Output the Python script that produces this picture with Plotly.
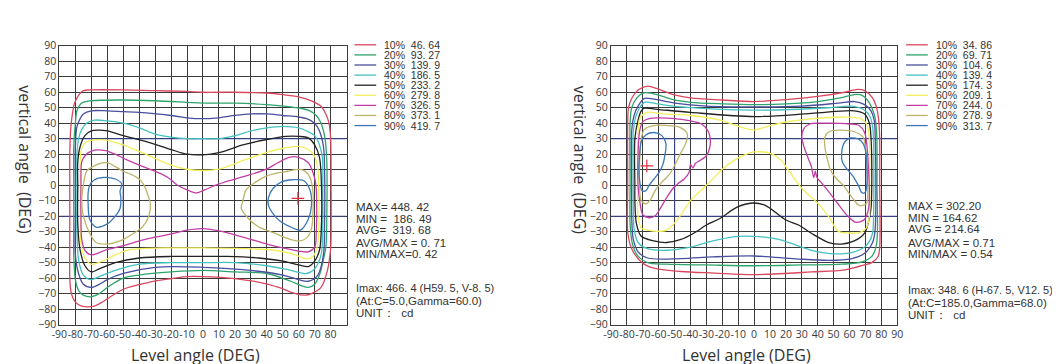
import plotly.graph_objects as go

W, H = 1060, 364

# ---------------- data ----------------
LEVEL_PCT = [10, 20, 30, 40, 50, 60, 70, 80, 90]
LEVEL_COLORS = ["#d9475f", "#2ea46c", "#4a4f9e", "#45c1c0", "#222222",
                "#f2ef5c", "#c23ea6", "#bdb46a", "#3b78b5"]

A_LEVEL_CD = ["46. 64", "93. 27", "139. 9", "186. 5", "233. 2", "279. 8", "326. 5", "373. 1", "419. 7"]
B_LEVEL_CD = ["34. 86", "69. 71", "104. 6", "139. 4", "174. 3", "209. 1", "244. 0", "278. 9", "313. 7"]

X_TICKS_A = list(range(-90, 81, 10))
X_TICKS_B = list(range(-90, 91, 10))
Y_TICKS = list(range(-90, 91, 10))

A_STATS = ["MAX= 448. 42", "MIN =  186. 49", "AVG=  319. 68", "AVG/MAX = 0. 71", "MIN/MAX=0. 42"]
A_INFO = ["Imax: 466. 4 (H59. 5, V-8. 5)", "(At:C=5.0,Gamma=60.0)", "UNIT：  cd"]
A_IMAX = (59.5, -8.5)

B_STATS = ["MAX = 302.20", "MIN = 164.62", "AVG = 214.64", "AVG/MAX = 0.71", "MIN/MAX = 0.54"]
B_INFO = ["Imax: 348. 6 (H-67. 5, V12. 5)", "(At:C=185.0,Gamma=68.0)", "UNIT：  cd"]
B_IMAX = (-67.5, 12.5)

# Left chart isolines (H deg, V deg)
A10 = [(-83.5, 0), (-83.5, 20), (-83, 35), (-82, 45), (-80.5, 53), (-78, 58), (-75, 61), (-70, 61.5),
       (-50, 61.5), (-30, 61), (-10, 60.5), (0, 60), (20, 60), (40, 59.5), (50, 58.5), (60, 57),
       (65, 55.5), (70, 53.5), (74, 51), (77, 46), (79, 40), (80, 30), (80.3, 0), (80.3, -30),
       (80, -41), (78, -55), (74, -66), (68, -70), (64, -71), (58, -70), (47.5, -66), (37, -63),
       (16.5, -60), (0, -59), (-10, -59), (-24.5, -61), (-35, -63), (-49.5, -67), (-58, -72),
       (-64, -76), (-68, -78), (-76, -78), (-80, -75.5), (-82.5, -70), (-83.5, -60), (-83.5, -40),
       (-83.5, -20)]
A20 = [(-81, 0), (-81, 25), (-80, 40), (-79, 48), (-76, 53), (-70, 54.5), (-50, 55), (-30, 54.5),
       (-10, 53.5), (0, 53), (20, 53), (40, 52), (55, 50.5), (62, 49.5), (67, 48), (71, 45),
       (74, 40), (76.5, 30), (77.6, 15), (77.6, -20), (77, -40), (75, -50), (73, -58), (70, -64),
       (66, -66), (62, -65), (55, -62), (40, -57), (20, -56), (0, -55), (-20, -56), (-40, -58),
       (-50, -60), (-60, -66), (-65, -70), (-70, -72), (-75, -71), (-78, -68), (-80, -61),
       (-81, -45), (-81, -20)]
A30 = [(-80, 0), (-80, 25), (-79, 38), (-77, 43), (-75, 46), (-70, 48), (-60, 48), (-50, 47.5),
       (-40, 47), (-20, 45), (-5, 43), (10, 43.5), (20, 45), (30, 46), (40, 46), (50, 45),
       (60, 44), (65, 43), (70, 40), (73, 35), (75.5, 25), (76.2, 10), (76.2, -25), (75.5, -45),
       (72, -58), (66, -62), (60, -61), (50, -58), (30, -55), (0, -53), (-30, -53), (-50, -57),
       (-60, -61), (-65, -64), (-70, -66), (-75, -64), (-78, -57), (-80, -45), (-80, -20)]
A40 = [(-79, 0), (-79, 20), (-78, 30), (-76, 36), (-73, 40), (-68, 42), (-60, 41.5), (-50, 40),
       (-40, 37), (-30, 33), (-20, 31), (-10, 30), (0, 30), (10, 30), (20, 32), (30, 35),
       (40, 37), (50, 38), (60, 37), (65, 35), (70, 32), (73, 26), (74.8, 18), (75.1, 0),
       (75, -30), (74, -45), (70, -54), (65, -57), (55, -55), (40, -52), (20, -50), (0, -50),
       (-20, -50), (-40, -51), (-55, -55), (-65, -59), (-70, -61), (-75, -58), (-78, -48),
       (-79, -30)]
A50 = [(-78.5, 0), (-78.5, 15), (-77, 25), (-74, 32), (-70, 35), (-66, 35.5), (-60, 35), (-50, 32),
       (-35, 28), (-20, 23), (-10, 20), (0, 19.6), (10, 21), (25, 26), (40, 29.5), (52, 31.5),
       (60, 31.5), (66, 30.5), (70, 26), (73, 18), (74.1, 5), (74.1, -30), (73, -42), (70, -49),
       (66, -52.5), (60, -51.5), (50, -49), (35, -47), (15, -46), (0, -46), (-20, -46),
       (-40, -47), (-55, -50), (-65, -54), (-70, -56), (-74, -52), (-77, -42), (-78.5, -25)]
A60 = [(-77, 0), (-77, 15), (-76, 24), (-73, 28), (-70, 29), (-60, 29), (-50, 26), (-35, 19.6),
       (-20, 13), (-10, 10.3), (0, 9.5), (10, 10.3), (27, 16.6), (39, 20.8), (51, 24), (60, 25),
       (66, 23), (70, 18.6), (72, 10), (72.5, 0), (72.5, -30), (71.5, -40), (69, -46),
       (65, -47.5), (58, -45), (45, -42), (25, -41), (0, -40.5), (-25, -40.5), (-45, -41.5),
       (-55, -45), (-63, -49), (-70, -51), (-74, -47), (-76.5, -38), (-77, -20)]
A70 = [(-76, 15), (-74, 19), (-70, 22), (-62, 22.5), (-55, 20), (-48, 16.5), (-40, 13), (-30, 9),
       (-22, 5), (-16, 0), (-10, -3), (-4, -5), (1, -3), (8, 0), (15, 2.5), (27, 6), (39, 10),
       (47, 14.5), (54, 18), (60, 18), (66, 14.5), (69, 8), (70.8, 0), (71, -30), (70, -40),
       (66, -43), (60, -42.5), (50, -40.5), (40, -38), (30, -35), (20, -32), (10, -29.5), (0, -28),
       (-10, -29), (-20, -31.5), (-30, -33.5), (-40, -36), (-50, -39), (-60, -41.5), (-70, -45),
       (-74, -42), (-76, -35), (-76.5, -20), (-76.5, 0)]
A80L = [(-73, 9), (-70, 11.5), (-65, 14), (-60, 14.5), (-55, 12), (-50, 9), (-45, 7), (-40, 4),
        (-37, 0), (-35, -5), (-33, -12), (-34, -20), (-38, -27), (-45, -32), (-52, -36), (-60, -38),
        (-67, -37), (-71, -31), (-75, -20), (-76, -10), (-75, 0)]
A80R = [(25, -10), (24, -15), (28, -21), (35, -27), (45, -31), (52, -34), (60, -36), (65, -34),
        (68, -28), (69, -15), (69, -5), (68, 2), (66, 7), (62, 10), (58, 10), (53, 9), (47, 8),
        (40, 6), (33, 2), (27, -3)]
A90L = [(-71, 0), (-68, 3.5), (-62, 5), (-55, 4), (-51, 1), (-52, -4), (-51.5, -8), (-52, -15),
        (-55, -20), (-60, -25), (-67, -27), (-71, -22), (-72, -12), (-72, -5)]
A90R = [(41, -8), (44, -2), (49, 2), (56, 3.5), (63, 3), (67, -3), (68, -13), (66, -22), (61, -29),
        (55, -27), (48, -23), (43, -17), (41, -13)]

# Right chart isolines (H deg, V deg)
B10 = [(-79.5, 0), (-79.5, 40), (-79, 50), (-77, 56), (-73, 61.4), (-67, 64), (-63, 63), (-59, 61.5),
       (-50, 58.3), (-40, 56.3), (-20, 55), (0, 54), (20, 55.2), (40, 57.3), (57, 60), (65, 61.8),
       (69.5, 61), (74.5, 56.3), (77.5, 48), (78.8, 36), (79, 0), (79, -40), (78, -46), (74, -50),
       (69.5, -51.5), (57, -54.6), (36, -56), (0, -57.7), (-25, -56.7), (-46, -55.7), (-63, -53.6),
       (-71, -49.5), (-77, -41), (-79.4, -31)]
B20 = [(-78, 0), (-78, 40), (-77, 50), (-74, 56), (-70, 59.5), (-65, 59.5), (-58, 57.5), (-50, 55),
       (-40, 53.5), (-20, 52.5), (0, 52), (20, 52.5), (40, 54), (55, 56.5), (63, 58.5), (68, 58),
       (72, 54), (75.5, 46), (77, 35), (77.3, 0), (77, -38), (74, -46), (68, -49.5), (55, -51),
       (30, -51.5), (0, -52), (-30, -51.5), (-55, -51), (-67, -50), (-73, -46), (-76.5, -38),
       (-78, -25)]
B30 = [(-77, 0), (-77, 35), (-75.5, 45), (-73, 51), (-69, 56), (-63, 55.5), (-50, 53), (-30, 51),
       (0, 50.5), (30, 51), (53, 53), (63, 54), (69.5, 52), (73.5, 48), (75.5, 42), (76.2, 30),
       (76, -30), (74.5, -37), (69.5, -44), (61, -47.5), (47, -48.5), (26, -47.5), (0, -45.7),
       (-26, -46.3), (-46, -47.4), (-67, -47), (-73, -43), (-76, -35), (-77, -20)]
B40 = [(-76, 0), (-76, 35), (-74.5, 44), (-72, 50), (-69, 53.5), (-61, 52.5), (-46, 50.5), (0, 48.4),
       (47, 50), (61, 51), (68.5, 49), (72.5, 45), (74.5, 38), (75.2, 25), (75, -25), (74.5, -31),
       (70.5, -39), (63, -43), (51, -44.3), (36, -42), (15.5, -35), (0, -33), (-13, -33.3),
       (-26, -36), (-40, -40), (-55, -42), (-67, -41), (-73, -37), (-75.5, -28), (-76, -10)]
B50 = [(-75, 0), (-75, 30), (-73, 42), (-71, 48), (-69, 49.7), (-61, 49), (-40, 47), (0, 44.3),
       (36, 46.3), (63, 48), (69.5, 46), (72.5, 40), (73.5, 31), (74, 0), (73.5, -15), (72.5, -21),
       (69.5, -31), (63, -36), (55, -38), (47, -37), (36, -31), (28, -25.7), (20, -22.5), (7, -13),
       (-1, -11.5), (-11, -14.3), (-21.5, -21.5), (-30, -25.7), (-38, -31), (-46, -35), (-55, -37),
       (-63, -36), (-71, -33), (-74, -25), (-75, -10)]
B60 = [(-73.2, 0), (-73, 35), (-71.5, 44), (-67, 47), (-57, 46), (-40, 45), (-21.5, 42), (-9, 37.7),
       (0, 35.6), (7.4, 37.7), (20, 40.8), (36, 42.8), (57, 44), (67, 43), (71, 39), (72.5, 30),
       (72.6, 0), (72.5, -20), (70.5, -27.7), (65.4, -30.8), (59, -30.8), (53, -29.8), (47, -20.5),
       (40.6, -12.2), (30, -2), (22, 9), (17, 16), (11.4, 20), (0, 21.5), (-11, 17), (-21.5, 9),
       (-24, 6), (-32, -2), (-40, -10), (-48.4, -22.5), (-54.6, -28.8), (-60.8, -29.8), (-67, -29),
       (-71, -27.7), (-73, -20)]
B70L = [(-72, 35), (-70, 41), (-66, 43), (-60, 43.5), (-50, 43), (-40, 41.5), (-33, 39.5), (-29, 35),
        (-27.5, 29), (-28, 24), (-30, 19), (-34, 16), (-37, 14), (-38.5, 11), (-40, 13.5), (-41, 8),
        (-44, 4), (-48, 1), (-51, -2), (-55, -8), (-59, -15), (-62, -19.5), (-66, -21), (-70, -19),
        (-72, -10), (-73, 0), (-73, 20)]
B70R = [(30, 31), (31, 36), (35, 39.5), (45, 40), (60, 39.5), (66, 38.5), (69.5, 34), (71, 25),
        (72, 10), (72.5, -5), (72, -15), (69.5, -22), (64, -24), (58, -19), (52, -11), (46, -3),
        (42, 2), (39.5, 5), (38.5, 9), (37.5, 5), (36, 12), (33, 20), (31, 26)]
B80L = [(-71, 30), (-69, 36), (-63, 38.5), (-55, 38.5), (-47, 37.5), (-42, 33), (-43, 27), (-46, 21),
        (-49, 15), (-52, 9), (-55, 5), (-58, 2), (-62, -3), (-65, -9), (-68, -12), (-71, -10),
        (-72, -2), (-72, 15)]
B80R = [(44.5, 31), (47, 34.5), (54, 35.5), (63, 34.5), (68.5, 31), (70, 25), (71, 10), (71.5, -5),
        (70.5, -12), (66, -13), (61, -7), (56, 0), (51, 5), (48, 10), (46, 17), (44.5, 25)]
B90L = [(-72, 20), (-71, 28), (-68, 32.5), (-63, 34), (-58, 32), (-55.5, 27), (-56, 20), (-57.5, 13),
        (-60, 8), (-63, 4), (-66, 0), (-68, -3.5), (-70.5, -3.5), (-72, 3), (-72.5, 11)]
B90R = [(55, 20), (56, 26), (58, 29), (61, 30.5), (65, 30), (68.5, 27), (70.5, 20), (71, 10), (71, 2),
        (70, -4.5), (68, -5), (65.5, 0), (62, 6), (58, 11), (55.5, 15)]

A_CONTOURS = [(0, A10), (1, A20), (2, A30), (3, A40), (4, A50), (5, A60), (6, A70),
              (7, A80L), (7, A80R), (8, A90L), (8, A90R)]
B_CONTOURS = [(0, B10), (1, B20), (2, B30), (3, B40), (4, B50), (5, B60), (6, B70L), (6, B70R),
              (7, B80L), (7, B80R), (8, B90L), (8, B90R)]

# ---------------- layout helpers ----------------
def px(x):
    return x / W


def py(y):
    return 1 - y / H


PANELS = [
    dict(xa="x", ya="y", xl="xaxis", yl="yaxis", x0=44, x1=335, contours=A_CONTOURS,
         xticks=X_TICKS_A, levels=A_LEVEL_CD, imax=A_IMAX, stats=A_STATS, info=A_INFO,
         leg_x=343, stat_x=343, stat_y=[200, 212, 224, 237, 249], info_y=[284, 297, 310],
         ytitle_x=9, xtitle_x=182),
    dict(xa="x2", ya="y2", xl="xaxis2", yl="yaxis2", x0=603, x1=893, contours=B_CONTOURS,
         xticks=X_TICKS_B, levels=B_LEVEL_CD, imax=B_IMAX, stats=B_STATS, info=B_INFO,
         leg_x=902, stat_x=902, stat_y=[199, 211, 223, 237, 249], info_y=[286, 299, 312],
         ytitle_x=571, xtitle_x=740),
]
LEG_ROWS = [31, 41.5, 52, 62.5, 73, 83.5, 94, 104.5, 115]
PLOT_TOP, PLOT_BOTTOM = 32, 322
GRID = "#3b3b3b"
HILITE = "#3a4592"
TICKFONT = dict(family="Open Sans", size=10.5, color="#3a3a3a")
TXTFONT = dict(family="Liberation Sans", size=10.5, color="#333333")
STATFONT = dict(family="Liberation Sans", size=11.5, color="#333333")
INFOFONT = dict(family="Liberation Sans", size=11, color="#333333")
TITLEFONT = dict(family="Open Sans", size=16, color="#333333")

fig = go.Figure()
layout = dict(width=W, height=H, margin=dict(l=0, r=0, t=0, b=0),
              paper_bgcolor="white", plot_bgcolor="white", showlegend=False)
shapes, annotations = [], []

for p in PANELS:
    for lvl, pts in p["contours"]:
        xs = [q[0] for q in pts] + [pts[0][0]]
        ys = [q[1] for q in pts] + [pts[0][1]]
        fig.add_trace(go.Scatter(x=xs, y=ys, mode="lines", xaxis=p["xa"], yaxis=p["ya"],
                                 line=dict(color=LEVEL_COLORS[lvl], width=1.3, shape="spline",
                                           smoothing=0.9),
                                 hoverinfo="skip"))
    fig.add_trace(go.Scatter(x=[p["imax"][0]], y=[p["imax"][1]], mode="markers",
                             xaxis=p["xa"], yaxis=p["ya"],
                             marker=dict(symbol="cross-thin", size=9,
                                         line=dict(color="#e03040", width=1.2)),
                             hoverinfo="skip"))
    layout[p["xl"]] = dict(domain=[px(p["x0"]), px(p["x1"])], range=[-90, 90], anchor=p["ya"],
                           tickvals=p["xticks"], ticktext=[str(t) for t in p["xticks"]],
                           tickangle=0,
                           showgrid=True, gridcolor=GRID, gridwidth=1.2, zeroline=False,
                           showline=True, mirror=True, linecolor=GRID, linewidth=1.2,
                           ticks="", tickfont=TICKFONT, fixedrange=True)
    layout[p["yl"]] = dict(domain=[py(PLOT_BOTTOM), py(PLOT_TOP)], range=[-90, 90], anchor=p["xa"],
                           tickvals=Y_TICKS, showgrid=True, gridcolor=GRID, gridwidth=1.2,
                           zeroline=False, showline=True, mirror=True, linecolor=GRID,
                           linewidth=1.2, ticks="", tickfont=TICKFONT, fixedrange=True)
    # highlighted (blue) reference grid lines
    for v in (30, -20):
        shapes.append(dict(type="line", xref=p["xa"], yref=p["ya"], x0=-90, x1=90, y0=v, y1=v,
                           line=dict(color=HILITE, width=1.1), layer="between"))
    shapes.append(dict(type="line", xref=p["xa"], yref=p["ya"], x0=-50, x1=-50, y0=-20, y1=30,
                       line=dict(color=HILITE, width=1.1), layer="between"))
    # legend
    for i, (pct, cd) in enumerate(zip(LEVEL_PCT, p["levels"])):
        yy = py(LEG_ROWS[i])
        shapes.append(dict(type="line", xref="paper", yref="paper", x0=px(p["leg_x"]),
                           x1=px(p["leg_x"] + 22), y0=yy, y1=yy,
                           line=dict(color=LEVEL_COLORS[i], width=1.3)))
        annotations.append(dict(xref="paper", yref="paper", x=px(p["leg_x"] + 28), y=yy,
                                xanchor="left", yanchor="middle", showarrow=False,
                                text=f"{pct}%  {cd}", font=TXTFONT))
    for t, yv in zip(p["stats"], p["stat_y"]):
        annotations.append(dict(xref="paper", yref="paper", x=px(p["stat_x"]), y=py(yv),
                                xanchor="left", yanchor="middle", showarrow=False,
                                text=t, font=STATFONT))
    for j, (t, yv) in enumerate(zip(p["info"], p["info_y"])):
        annotations.append(dict(xref="paper", yref="paper", x=px(p["stat_x"]), y=py(yv),
                                xanchor="left", yanchor="middle", showarrow=False,
                                text=t, font=INFOFONT if j == 0 else STATFONT))
    annotations.append(dict(xref="paper", yref="paper", x=px(p["ytitle_x"]), y=py(151),
                            xanchor="center", yanchor="middle", showarrow=False, textangle=90,
                            text="vertical angle  (DEG)", font=TITLEFONT))
    annotations.append(dict(xref="paper", yref="paper", x=px(p["xtitle_x"]), y=py(354),
                            xanchor="center", yanchor="middle", showarrow=False,
                            text="Level angle (DEG)", font=TITLEFONT))

layout["shapes"] = shapes
layout["annotations"] = annotations
fig.update_layout(**layout)
fig.write_html("out.html")
